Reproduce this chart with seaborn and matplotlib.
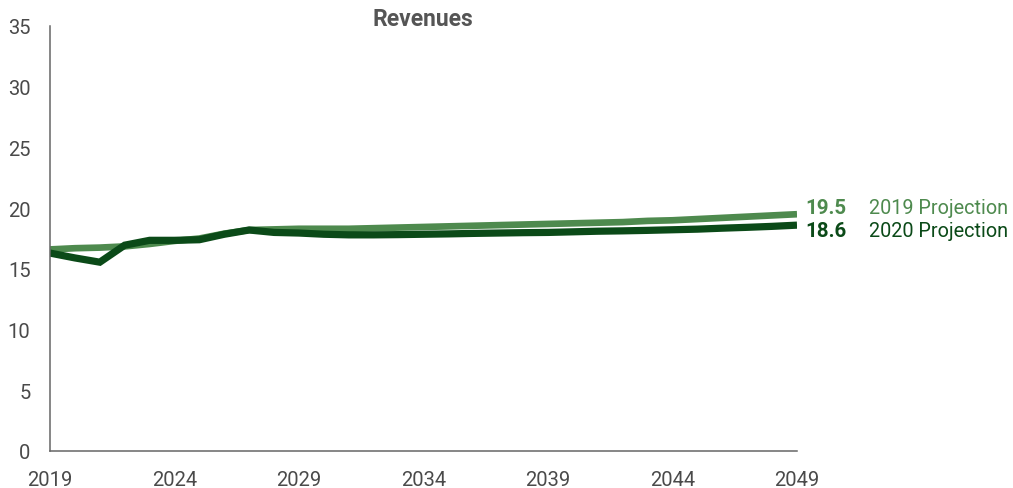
import matplotlib
matplotlib.use("Agg")
import matplotlib.pyplot as plt
import seaborn as sns
import pandas as pd

years = list(range(2019, 2050))
proj_2019 = [16.6, 16.7, 16.75, 16.85, 17.05, 17.3, 17.5, 17.9, 18.2, 18.25,
             18.3, 18.3, 18.3, 18.35, 18.4, 18.45, 18.5, 18.55, 18.6, 18.65,
             18.7, 18.75, 18.8, 18.85, 18.95, 19.0, 19.1, 19.2, 19.3, 19.4, 19.5]
proj_2020 = [16.3, 15.9, 15.55, 16.95, 17.35, 17.35, 17.4, 17.85, 18.2, 18.0,
             17.95, 17.85, 17.8, 17.8, 17.82, 17.85, 17.88, 17.92, 17.95, 17.98,
             18.0, 18.05, 18.1, 18.13, 18.17, 18.22, 18.27, 18.35, 18.42, 18.5, 18.6]
series_names = ["2019 Projection", "2020 Projection"]
end_labels = ["19.5", "18.6"]
x_ticks = [2019, 2024, 2029, 2034, 2039, 2044, 2049]
y_ticks = [0, 5, 10, 15, 20, 25, 30, 35]

light = "#4e8a4e"
dark = "#0b4a18"

sns.set_style("white")
plt.rcParams["font.family"] = ["Roboto", "DejaVu Sans"]

df = pd.DataFrame({
    "year": years * 2,
    "value": proj_2019 + proj_2020,
    "series": [series_names[0]] * len(years) + [series_names[1]] * len(years),
})

fig = plt.figure(figsize=(10.13, 4.89), dpi=100)
ax = fig.add_axes([50 / 1013, 37 / 489, (797 - 50) / 1013, (452 - 27) / 489])

sns.lineplot(data=df[df.series == series_names[0]], x="year", y="value",
             color=light, linewidth=4.8, ax=ax, legend=False)
sns.lineplot(data=df[df.series == series_names[1]], x="year", y="value",
             color=dark, linewidth=5.2, ax=ax, legend=False)
for l in ax.lines:
    l.set_solid_joinstyle("miter")
    l.set_solid_capstyle("butt")

ax.set_xlim(2019, 2049)
ax.set_ylim(0, 35)
ax.set_xticks(x_ticks)
ax.set_yticks(y_ticks)
ax.set_xlabel("")
ax.set_ylabel("")
for s in ["top", "right"]:
    ax.spines[s].set_visible(False)
for s in ["left", "bottom"]:
    ax.spines[s].set_color("#666666")
    ax.spines[s].set_linewidth(1.1)
ax.tick_params(axis="both", direction="in", length=6, width=1.0, color="#666666",
               labelcolor="#4a4a4a", labelsize=14.5)
ax.tick_params(axis="y", pad=14)
ax.tick_params(axis="x", pad=14)

ax.set_title("Revenues", fontsize=16.5, fontweight="bold", color="#555555",
             x=(423 - 50) / 747, y=1.0, pad=1)

cols = [light, dark]
vals = [proj_2019[-1], proj_2020[-1]]
offs = [5, -4]
for lab, name, v, c, o in zip(end_labels, series_names, vals, cols, offs):
    ax.annotate(lab, xy=(years[-1], v), xytext=(6, o), textcoords="offset points",
                ha="left", va="center", fontsize=14.8, fontweight="bold", color=c,
                annotation_clip=False)
    ax.annotate(name, xy=(years[-1], v), xytext=(52, o), textcoords="offset points",
                ha="left", va="center", fontsize=14.3, color=c, annotation_clip=False)

fig.savefig("out.png", dpi=100)
